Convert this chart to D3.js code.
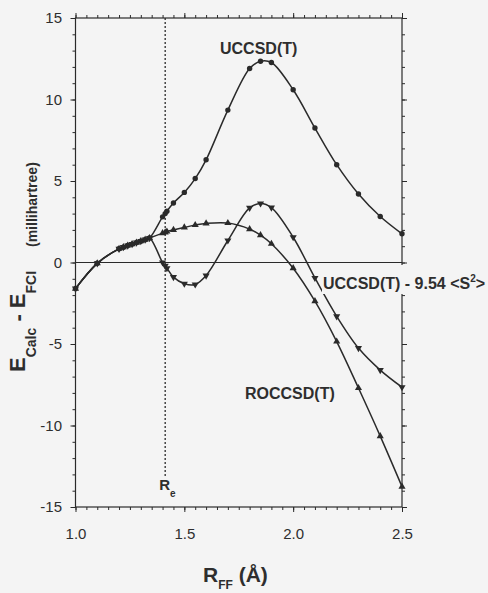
<!DOCTYPE html>
<html>
<head>
<meta charset="utf-8">
<script src="https://cdn.jsdelivr.net/npm/d3@7"></script>
<style>
body { margin: 0; background: #f4f4f4; }
svg { display: block; }
text { font-family: "Liberation Sans", Arial, sans-serif; fill: #2e2e2e; }
</style>
</head>
<body>
<script>
// F-F distance (Å), same grid for all three curves
var rFF = [1.0, 1.1, 1.2, 1.22, 1.24, 1.26, 1.28, 1.30, 1.32, 1.34, 1.40, 1.412, 1.42, 1.45,
           1.50, 1.55, 1.60, 1.70, 1.80, 1.85, 1.90, 2.0, 2.1, 2.2, 2.3, 2.4, 2.5];
// E(calc) - E(FCI), millihartree
var uccsdT = [-1.6, -0.05, 0.84, 0.94, 1.04, 1.13, 1.22, 1.31, 1.40, 1.50, 2.8, 3.0, 3.15, 3.65,
              4.3, 5.15, 6.3, 9.35, 11.9, 12.35, 12.27, 10.6, 8.25, 6.0, 4.2, 2.82, 1.76];
var roccsdT = [-1.6, -0.05, 0.84, 0.94, 1.04, 1.13, 1.22, 1.31, 1.40, 1.50, 1.80, 1.85, 1.90, 2.0,
               2.15, 2.3, 2.4, 2.42, 2.05, 1.68, 1.15, -0.35, -2.37, -4.85, -7.7, -10.65, -13.75];
var uccsdSpin = [-1.6, -0.05, 0.84, 0.94, 1.04, 1.13, 1.22, 1.31, 1.40, 1.50, 0.0, -0.2, -0.35, -0.9,
                 -1.3, -1.35, -0.8, 1.35, 3.35, 3.62, 3.37, 1.55, -0.95, -3.3, -5.25, -6.6, -7.65];

var xTicks = [1.0, 1.5, 2.0, 2.5];
var yTicks = [-15, -10, -5, 0, 5, 10, 15];
var Re = 1.412;

var w = 488, h = 593;
var plotL = 75.5, plotR = 402, plotT = 18, plotB = 507;
var ink = "#2a2a2a";

var svg = d3.select("body")
	.append("svg")
	.attr("width", w)
	.attr("height", h);

var xScale = d3.scaleLinear().domain([1.0, 2.5]).range([plotL, plotR]);
var yScale = d3.scaleLinear().domain([-15, 15]).range([plotB, plotT]);

var minorX = d3.range(1.0, 2.5001, 0.05);
var minorY = d3.range(-15, 15.001, 1);

function styleAxis(g) {
	g.select(".domain").remove();
	g.selectAll("line").attr("stroke", ink);
	g.attr("font-size", null).attr("font-family", null);
}

// minor ticks on all four sides
svg.append("g").attr("transform", "translate(0," + plotB + ")")
	.call(d3.axisBottom(xScale).tickValues(minorX).tickSize(3).tickFormat("")).call(styleAxis);
svg.append("g").attr("transform", "translate(0," + plotT + ")")
	.call(d3.axisTop(xScale).tickValues(minorX).tickSize(3).tickFormat("")).call(styleAxis);
svg.append("g").attr("transform", "translate(" + plotL + ",0)")
	.call(d3.axisLeft(yScale).tickValues(minorY).tickSize(3).tickFormat("")).call(styleAxis);
svg.append("g").attr("transform", "translate(" + plotR + ",0)")
	.call(d3.axisRight(yScale).tickValues(minorY).tickSize(3).tickFormat("")).call(styleAxis);

// major ticks (plain hyphen for negatives, like the original)
svg.append("g").attr("transform", "translate(0," + plotB + ")")
	.call(d3.axisBottom(xScale).tickValues(xTicks).tickSize(5).tickPadding(16)
		.tickFormat(function(d) { return d.toFixed(1); }))
	.call(styleAxis)
	.selectAll("text").attr("font-size", "15px");
svg.append("g").attr("transform", "translate(0," + plotT + ")")
	.call(d3.axisTop(xScale).tickValues(xTicks).tickSize(5).tickFormat("")).call(styleAxis);
svg.append("g").attr("transform", "translate(" + plotL + ",0)")
	.call(d3.axisLeft(yScale).tickValues(yTicks).tickSize(5).tickPadding(8.5)
		.tickFormat(function(d) { return String(d); }))
	.call(styleAxis)
	.selectAll("text").attr("font-size", "15px");
svg.append("g").attr("transform", "translate(" + plotR + ",0)")
	.call(d3.axisRight(yScale).tickValues(yTicks).tickSize(5).tickFormat("")).call(styleAxis);

// frame + zero line
svg.append("rect")
	.attr("x", plotL).attr("y", plotT)
	.attr("width", plotR - plotL).attr("height", plotB - plotT)
	.attr("fill", "none").attr("stroke", ink).attr("stroke-width", 1.2);
svg.append("line")
	.attr("x1", plotL).attr("x2", plotR)
	.attr("y1", yScale(0)).attr("y2", yScale(0))
	.attr("stroke", ink).attr("stroke-width", 1.2);

// equilibrium distance
svg.append("line")
	.attr("x1", xScale(Re)).attr("x2", xScale(Re))
	.attr("y1", plotT).attr("y2", 478)
	.attr("stroke", ink).attr("stroke-width", 1.3)
	.attr("stroke-dasharray", "2,2");
var reLab = svg.append("text").attr("x", xScale(Re) - 6).attr("y", 490)
	.attr("font-size", "15px").attr("font-weight", "bold");
reLab.append("tspan").text("R");
reLab.append("tspan").attr("font-size", "10px").attr("dy", 7).text("e");

// curves
var series = [
	{ vals: uccsdT, mark: "circle" },
	{ vals: roccsdT, mark: "up" },
	{ vals: uccsdSpin, mark: "down" }
];

var line = d3.line()
	.x(function(d) { return xScale(d[0]); })
	.y(function(d) { return yScale(d[1]); })
	.curve(d3.curveCatmullRom.alpha(0.5));

var tri = d3.symbol().type(d3.symbolTriangle).size(22);

series.forEach(function(s) {
	var pts = rFF.map(function(r, i) { return [r, s.vals[i]]; });
	svg.append("path")
		.datum(pts)
		.attr("d", line)
		.attr("fill", "none")
		.attr("stroke", ink)
		.attr("stroke-width", 1.5);
	var g = svg.append("g");
	if (s.mark === "circle") {
		g.selectAll("circle").data(pts).enter().append("circle")
			.attr("cx", function(d) { return xScale(d[0]); })
			.attr("cy", function(d) { return yScale(d[1]); })
			.attr("r", 2.7)
			.attr("fill", ink);
	} else {
		g.selectAll("path").data(pts).enter().append("path")
			.attr("d", tri)
			.attr("transform", function(d) {
				return "translate(" + xScale(d[0]) + "," + yScale(d[1]) + ")" + (s.mark === "down" ? " rotate(180)" : "");
			})
			.attr("fill", ink);
	}
});

// curve labels
svg.append("text").attr("x", 220).attr("y", 54)
	.attr("font-size", "16px").attr("font-weight", "bold").text("UCCSD(T)");

svg.append("text").attr("x", 245).attr("y", 399)
	.attr("font-size", "16px").attr("font-weight", "bold").text("ROCCSD(T)");

svg.append("rect")
	.attr("x", 322).attr("y", 265).attr("width", 166).attr("height", 29)
	.attr("fill", "#f4f4f4");
var spinLab = svg.append("text").attr("x", 323).attr("y", 289)
	.attr("font-size", "16px").attr("font-weight", "bold");
spinLab.append("tspan").text("UCCSD(T) - 9.54 <S");
spinLab.append("tspan").attr("font-size", "10px").attr("dy", -7).text("2");
spinLab.append("tspan").attr("dy", 7).text(">");

// axis titles
var yLab = svg.append("text")
	.attr("transform", "translate(25,372) rotate(-90)")
	.attr("font-weight", "bold");
yLab.append("tspan").attr("font-size", "22px").text("E");
yLab.append("tspan").attr("font-size", "14px").attr("dy", 11).text("Calc");
yLab.append("tspan").attr("font-size", "22px").attr("dy", -11).text(" - E");
yLab.append("tspan").attr("font-size", "14px").attr("dy", 11).text("FCI");

svg.append("text")
	.attr("transform", "translate(37,247) rotate(-90)")
	.attr("font-size", "14px").attr("font-weight", "bold")
	.text("(millihartree)");

var xLab = svg.append("text").attr("x", 203).attr("y", 582)
	.attr("font-weight", "bold");
xLab.append("tspan").attr("font-size", "21px").text("R");
xLab.append("tspan").attr("font-size", "12px").attr("dy", 7).text("FF");
xLab.append("tspan").attr("font-size", "21px").attr("dy", -7).text(" (Å)");
</script>
</body>
</html>
